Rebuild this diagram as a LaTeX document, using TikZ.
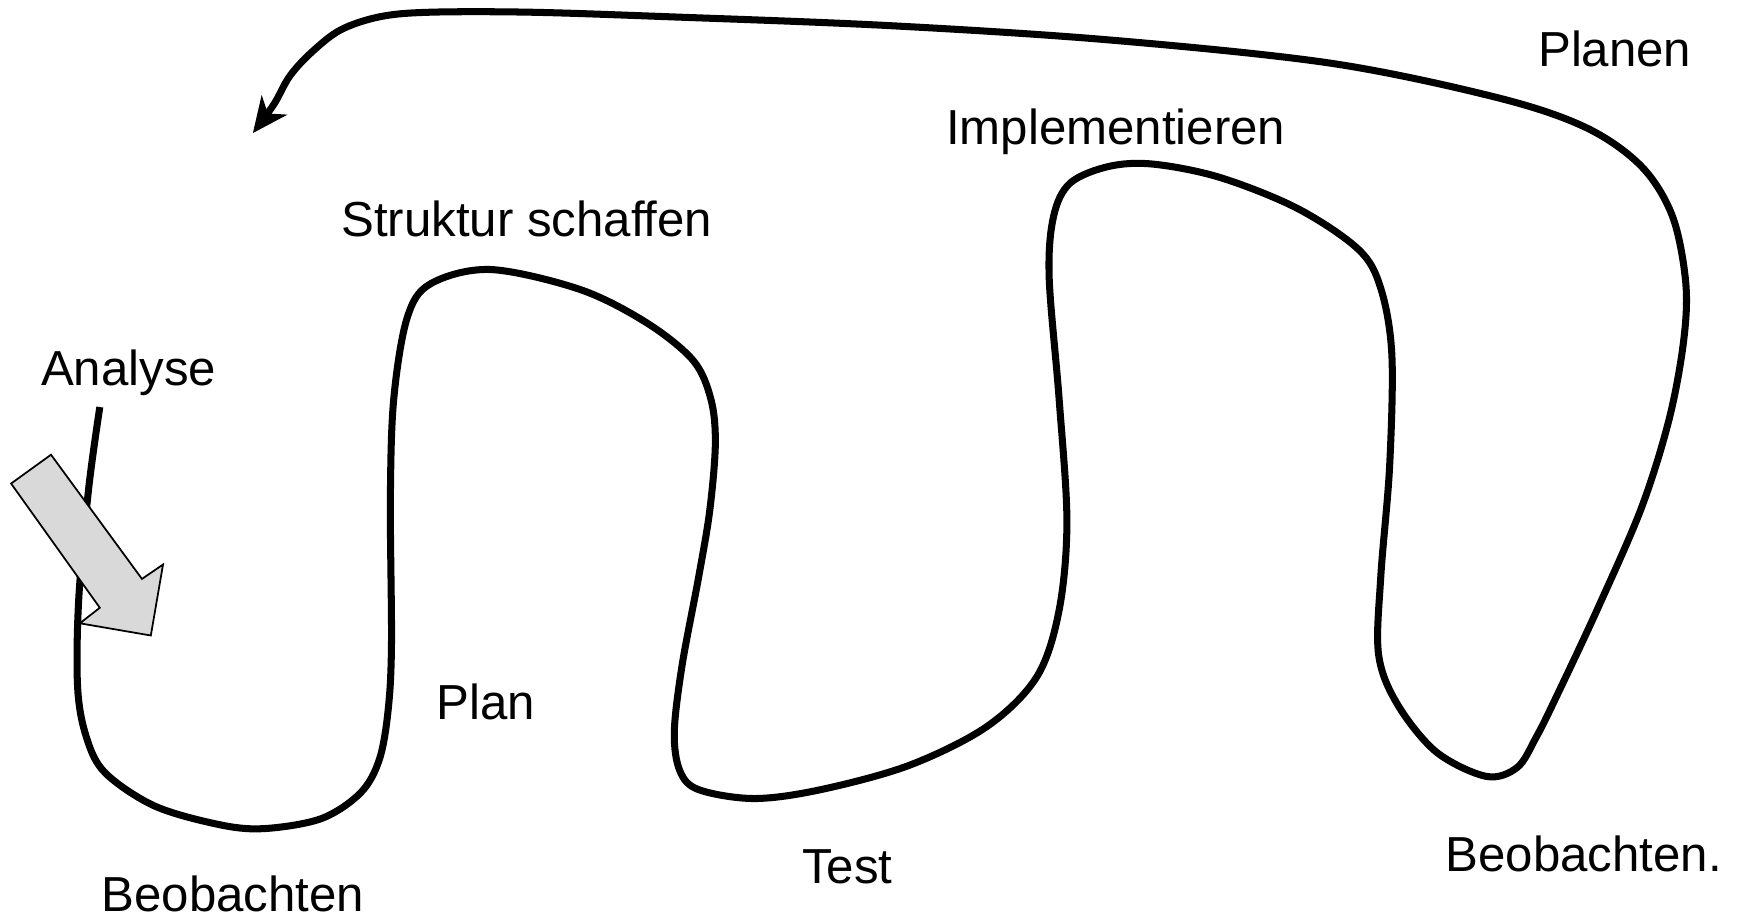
\documentclass[tikz,border=0pt]{standalone}
\usepackage{fontspec}
\setmainfont{Liberation Sans}
\usetikzlibrary{arrows.meta}

\tikzset{
  lbl/.style={anchor=base, font=\fontsize{14}{16}\selectfont},
  loopline/.style={line width=2pt, line join=round},
  inarrow/.style={draw=black, line width=0.5pt, fill=black!15}
}

\begin{document}
\begin{tikzpicture}[x=0.01109cm, y=-0.01109cm]
\useasboundingbox (0,0) rectangle (1568,829);

\draw[loopline, -{Stealth[length=10pt, width=9pt, inset=3pt]}] plot[smooth, tension=0.55] coordinates {
  (90,367) (80,440) (71,540) (70,620) (78,665) (95,697) (140,727) (200,744)
  (240,747) (290,738) (325,715) (342,685) (350,640) (353,580) (352,450)
  (355,360) (367,287) (388,256) (442,243) (523,261) (583,291) (625,325)
  (641,360) (645,400) (640,460) (630,520) (615,600) (608,660) (613,695)
  (630,712) (680,720) (740,712) (820,690) (890,655) (935,610) (955,550)
  (962,470) (955,360) (946,250) (950,195) (965,165) (1000,150) (1040,148)
  (1100,160) (1170,188) (1225,225) (1245,260) (1255,320) (1253,420)
  (1245,520) (1243,590) (1260,635) (1295,678) (1340,700) (1368,692)
  (1385,665) (1402,631) (1440,550) (1480,458) (1505,378) (1518,308)
  (1520,255) (1508,195) (1480,150) (1430,115) (1350,88) (1200,57)
  (1000,36) (800,23) (600,15) (478,11) (388,11) (343,15) (307,27)
  (280,48) (261,69) (247,94) (228,120)};

\draw[inarrow] (10,436) -- (46,410) -- (128,522) -- (147,509) -- (136,573)
  -- (72,562) -- (90,548) -- cycle;

\node[lbl] (planen)   at (1456,60)  {Planen};
\node[lbl] (impl)     at (1006,130) {Implementieren};
\node[lbl] (struktur) at (475,213)  {Struktur schaffen};
\node[lbl] (analyse)  at (116,348)  {Analyse};
\node[lbl] (plan)     at (438,649)  {Plan};
\node[lbl] (test)     at (764,797)  {Test};
\node[lbl] (beob)     at (210,822)  {Beobachten};
\node[lbl] (beobend)  at (1428,786) {Beobachten.};

\end{tikzpicture}
\end{document}
